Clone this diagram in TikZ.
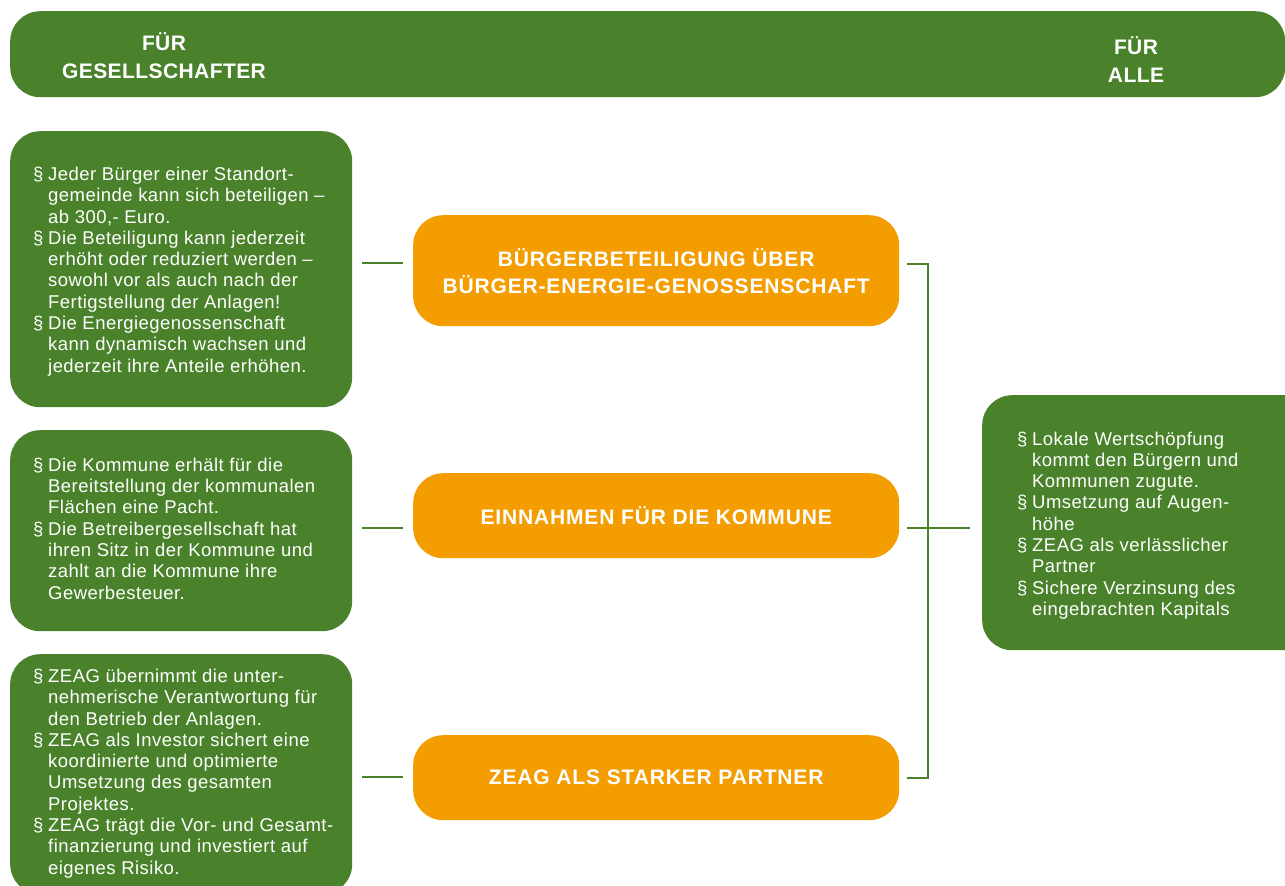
\documentclass[tikz,border=0pt]{standalone}
\usepackage{fontspec}
\setmainfont{Liberation Sans}
\newfontfamily\bodyfont[LetterSpace=2.5]{Liberation Sans}
\newfontfamily\titlefont[LetterSpace=4]{Liberation Sans}
\newfontfamily\headfont[LetterSpace=2]{Liberation Sans}
\definecolor{zgreen}{HTML}{4A822B}
\definecolor{zorange}{HTML}{F39D00}
\newcommand{\bl}{\makebox[15pt][l]{§}}
\begin{document}
\begin{tikzpicture}[x=1pt,y=-1pt,
  gbox/.style={fill=zgreen, draw=none, rounded corners=30pt, inner sep=0pt, anchor=north west},
  obox/.style={fill=zorange, draw=none, rounded corners=30pt, inner sep=0pt, anchor=north west},
  body/.style={text=white, inner sep=0pt, anchor=west, font=\bodyfont\fontsize{18.5}{21.3}\selectfont, align=left},
  title/.style={text=white, font=\titlefont\bfseries\fontsize{21}{27}\selectfont, align=center, inner sep=0pt},
  head/.style={text=white, font=\headfont\bfseries\fontsize{21}{28}\selectfont, align=center, inner sep=0pt},
  link/.style={draw=zgreen, line width=2.4pt}]
\useasboundingbox (0,0) rectangle (1285,886);

% header bar
\node[gbox, minimum width=1275pt, minimum height=86pt] (hdr) at (10,11) {};
\node[head] (hl) at (164,56) {FÜR\\GESELLSCHAFTER};
\node[head] (hr) at (1136,60) {FÜR\\ALLE};

% left boxes
\node[gbox, minimum width=342pt, minimum height=276pt] (b1) at (10,131) {};
\node[gbox, minimum width=342pt, minimum height=201pt] (b2) at (10,430) {};
\node[gbox, minimum width=342pt, minimum height=240pt] (b3) at (10,654) {};

\node[body] (t1) at (33,272) {\begin{tabular}{@{}l@{}l@{}}
\bl & Jeder Bürger einer Standort-\\
 & gemeinde kann sich beteiligen –\\
 & ab 300,- Euro.\\
\bl & Die Beteiligung kann jederzeit\\
 & erhöht oder reduziert werden –\\
 & sowohl vor als auch nach der\\
 & Fertigstellung der Anlagen!\\
\bl & Die Energiegenossenschaft\\
 & kann dynamisch wachsen und\\
 & jederzeit ihre Anteile erhöhen.
\end{tabular}};

\node[body] (t2) at (33,531) {\begin{tabular}{@{}l@{}l@{}}
\bl & Die Kommune erhält für die\\
 & Bereitstellung der kommunalen\\
 & Flächen eine Pacht.\\
\bl & Die Betreibergesellschaft hat\\
 & ihren Sitz in der Kommune und\\
 & zahlt an die Kommune ihre\\
 & Gewerbesteuer.
\end{tabular}};

\node[body] (t3) at (33,774) {\begin{tabular}{@{}l@{}l@{}}
\bl & ZEAG übernimmt die unter-\\
 & nehmerische Verantwortung für\\
 & den Betrieb der Anlagen.\\
\bl & ZEAG als Investor sichert eine\\
 & koordinierte und optimierte\\
 & Umsetzung des gesamten\\
 & Projektes.\\
\bl & ZEAG trägt die Vor- und Gesamt-\\
 & finanzierung und investiert auf\\
 & eigenes Risiko.
\end{tabular}};

% orange boxes
\node[obox, minimum width=486pt, minimum height=111pt] (o1) at (413,215) {};
\node[obox, minimum width=486pt, minimum height=85pt] (o2) at (413,473) {};
\node[obox, minimum width=486pt, minimum height=85pt] (o3) at (413,735) {};
\node[title] (ot1) at (o1.center) {BÜRGERBETEILIGUNG ÜBER\\BÜRGER-ENERGIE-GENOSSENSCHAFT};
\node[title] (ot2) at (o2.center) {EINNAHMEN FÜR DIE KOMMUNE};
\node[title] (ot3) at (o3.center) {ZEAG ALS STARKER PARTNER};

% right box
\node[gbox, minimum width=340pt, minimum height=255pt] (r) at (982,395) {};
\node[body] (tr) at (1017,526) {\begin{tabular}{@{}l@{}l@{}}
\bl & Lokale Wertschöpfung\\
 & kommt den Bürgern und\\
 & Kommunen zugute.\\
\bl & Umsetzung auf Augen-\\
 & höhe\\
\bl & ZEAG als verlässlicher\\
 & Partner\\
\bl & Sichere Verzinsung des\\
 & eingebrachten Kapitals
\end{tabular}};

% connectors
\coordinate (l1a) at (362,263); \coordinate (l1b) at (403,263);
\coordinate (l2a) at (362,528); \coordinate (l2b) at (403,528);
\coordinate (l3a) at (362,777); \coordinate (l3b) at (403,777);
\draw[link] (l1a) -- (l1b);
\draw[link] (l2a) -- (l2b);
\draw[link] (l3a) -- (l3b);

\coordinate (r1) at (907,264);
\coordinate (r2) at (907,528);
\coordinate (r3) at (907,778);
\coordinate (bus) at (928,528);
\coordinate (rin) at (970,528);
\draw[link] (r1) -| (bus |- r3) -- (r3);
\draw[link] (r2) -- (rin);
\end{tikzpicture}
\end{document}
